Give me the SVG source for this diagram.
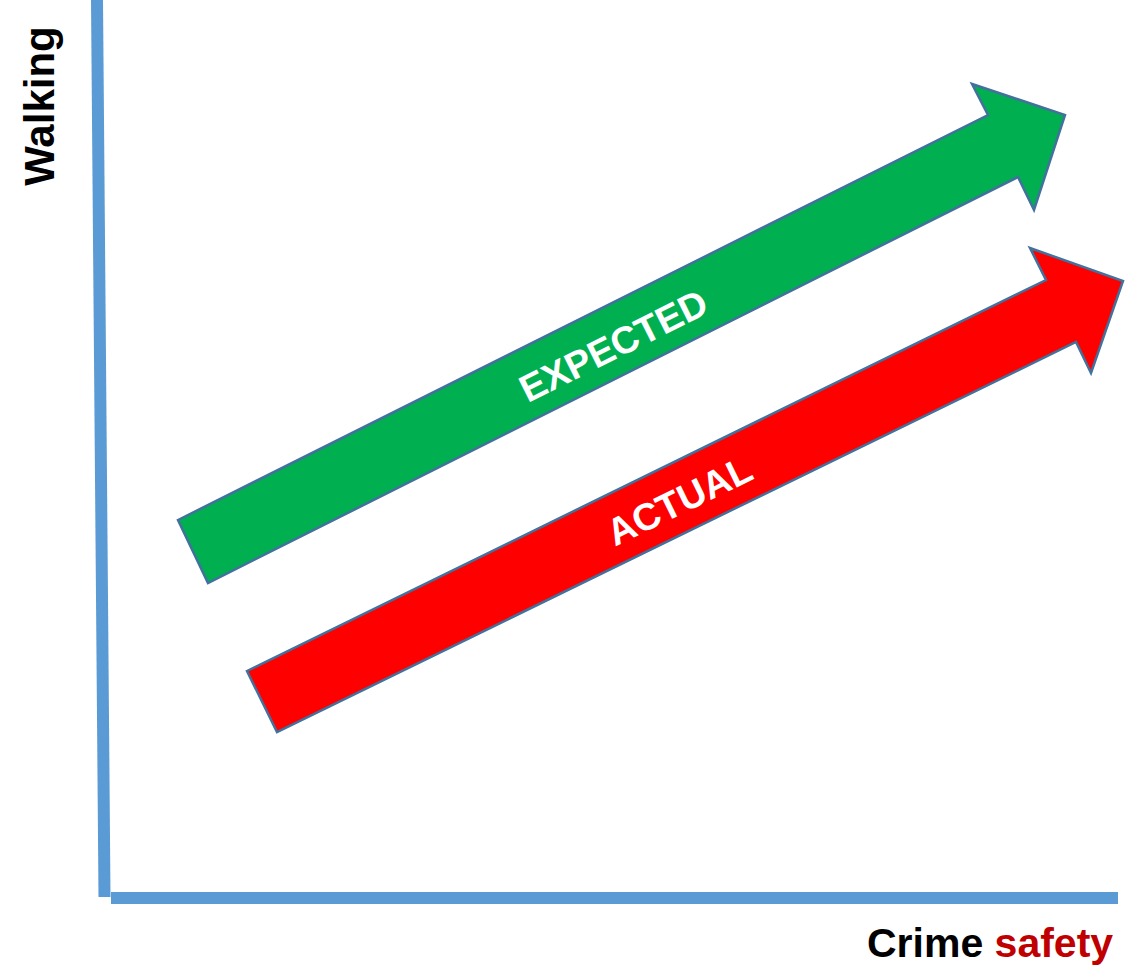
<svg xmlns="http://www.w3.org/2000/svg" width="1138" height="969" viewBox="0 0 1138 969">
  <style>
    .axis { stroke: #5B9BD5; stroke-width: 12; fill: none; }
    .arrow { stroke: #41719C; stroke-width: 2.5; stroke-linejoin: miter; }
    .label { font-family: "Liberation Sans", Arial, sans-serif; font-weight: bold; }
    .band { fill: #FFFFFF; font-size: 38px; text-anchor: middle; }
  </style>
  <rect width="1138" height="969" fill="#FFFFFF"/>

  <!-- axes -->
  <g id="axes">
    <line class="axis" x1="97" y1="0" x2="104.5" y2="897"/>
    <line class="axis" x1="111" y1="898" x2="1118" y2="898"/>
  </g>

  <!-- axis titles -->
  <g id="y-title">
    <text class="label" font-size="42" text-anchor="middle" transform="translate(54,106) rotate(-90)" fill="#000000">Walking</text>
  </g>
  <g id="x-title">
    <text class="label" font-size="41" x="867" y="957" fill="#000000">Crime <tspan fill="#C00000">safety</tspan></text>
  </g>

  <!-- expected trend -->
  <g id="expected">
    <polygon class="arrow" fill="#00B050" points="178,520 988,115 972,84 1065,115 1034,210 1018,177 208,583"/>
    <text class="label band" transform="translate(613,345) rotate(-26.57)" y="14">EXPECTED</text>
  </g>

  <!-- actual trend -->
  <g id="actual">
    <polygon class="arrow" fill="#FF0000" points="247,671 1046,280 1030,248 1123,281 1091,373 1076,342 277,732"/>
    <text class="label band" transform="translate(679,500) rotate(-26.05)" y="14">ACTUAL</text>
  </g>
</svg>
